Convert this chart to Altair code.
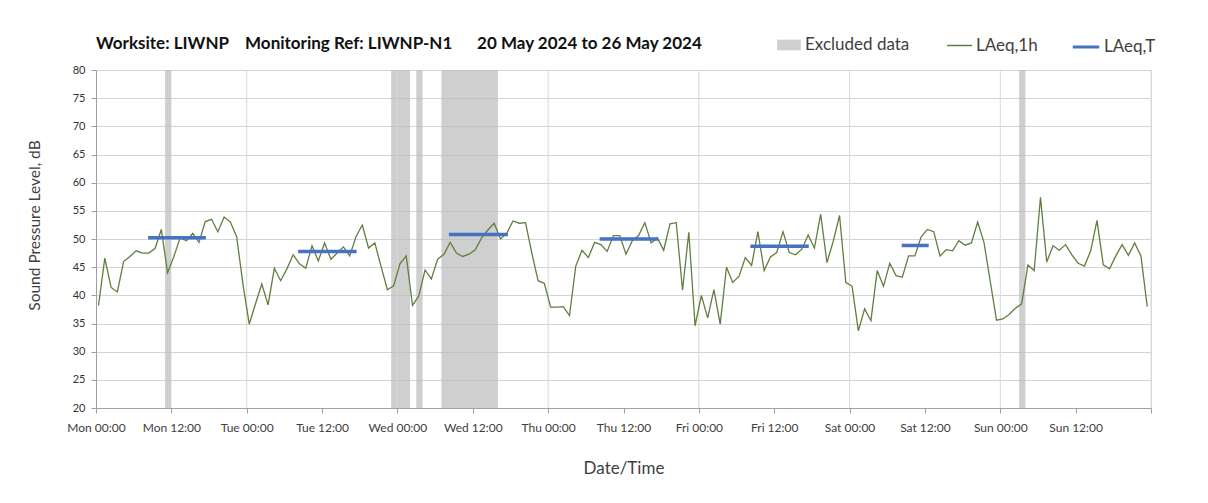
import altair as alt
import pandas as pd

# Hourly LAeq,1h readings, Mon 20 May 00:00 -> Sun 26 May 23:00 (168 hours)
laeq_1h = [
    38.2, 46.6, 41.4, 40.6, 46.0, 46.9, 47.9, 47.5, 47.5, 48.3, 51.7, 44.0,
    46.9, 50.2, 49.7, 51.0, 49.4, 53.1, 53.5, 51.3, 53.9, 53.0, 50.4, 42.0,
    34.9, 38.5, 42.0, 38.3, 44.8, 42.6, 44.7, 47.2, 45.6, 44.8, 48.8, 46.1,
    49.3, 46.4, 47.5, 48.6, 47.0, 50.4, 52.5, 48.4, 49.3, 45.1, 41.0, 41.7,
    45.6, 47.0, 38.2, 39.9, 44.5, 42.9, 46.4, 47.3, 49.4, 47.5, 46.9, 47.3,
    48.1, 50.2, 51.6, 52.8, 50.0, 51.0, 53.2, 52.8, 52.9, 47.5, 42.6, 42.1,
    37.9, 37.9, 38.0, 36.4, 45.2, 48.0, 46.7, 49.4, 49.0, 47.8, 50.6, 50.6,
    47.3, 49.7, 50.6, 52.9, 49.3, 50.2, 48.0, 52.7, 52.9, 40.9, 51.2, 34.6,
    40.0, 36.0, 41.0, 34.9, 45.0, 42.3, 43.4, 46.7, 45.3, 51.3, 44.4, 46.8,
    47.6, 51.3, 47.6, 47.2, 48.2, 50.7, 48.4, 54.4, 45.8, 49.6, 54.2, 42.3,
    41.6, 33.7, 37.6, 35.5, 44.4, 41.6, 45.7, 43.5, 43.2, 47.0, 47.0, 50.4,
    51.7, 51.3, 47.0, 48.1, 47.9, 49.7, 48.9, 49.3, 53.0, 49.4, 42.5, 35.6,
    35.8, 36.6, 37.7, 38.5, 45.4, 44.4, 57.4, 45.9, 48.8, 48.0, 49.0, 47.2,
    45.7, 45.2, 47.9, 53.3, 45.4, 44.7, 47.0, 49.0, 47.1, 49.3, 47.0, 38.0,
]
reading_offset_h = 0.4  # readings are time-stamped a little after each hour

# Excluded data periods (hours since Mon 00:00)
excl_start = [11, 47, 51, 55, 147]
excl_end = [12, 50, 52, 64, 148]

# LAeq,T daytime periods (hours since Mon 00:00) and levels
t_start = [8.3, 32.2, 56.2, 80.2, 104.2, 128.3]
t_end = [17.5, 41.5, 65.6, 89.5, 113.5, 132.6]
t_level = [50.2, 47.8, 50.8, 50.0, 48.7, 48.85]

# day boundaries (midnights) for the vertical gridlines
day_bounds = [24, 48, 72, 96, 120, 144, 168]

x_ticks = list(range(0, 169, 12))
y_ticks = list(range(20, 81, 5))

FONT = "Lato"
W, H = 1055, 338

line_df = pd.DataFrame({
    "h": [i + reading_offset_h for i in range(len(laeq_1h))],
    "v": laeq_1h,
    "s": ["LAeq,1h"] * len(laeq_1h),
})
excl_df = pd.DataFrame({"a": excl_start, "b": excl_end, "s": ["Excluded data"] * len(excl_start)})
t_df = pd.DataFrame({"a": t_start, "b": t_end, "v": t_level, "s": ["LAeq,T"] * len(t_start)})
grid_df = pd.DataFrame({"d": day_bounds})

x_scale = alt.Scale(domain=[0, 168], nice=False, zero=False)
y_scale = alt.Scale(domain=[20, 80], nice=False, zero=False)

label_expr = (
    "datum.value >= 168 ? '' : "
    "substring('MonTueWedThuFriSatSun', floor(datum.value/24)*3, floor(datum.value/24)*3+3)"
    " + (datum.value % 24 == 0 ? ' 00:00' : ' 12:00')"
)

x_axis = alt.Axis(
    values=x_ticks, labelExpr=label_expr, title="Date/Time",
    grid=False, labelOverlap=False, labelFlush=False,
    domainColor="#a0a0a0", tickColor="#a0a0a0", tickSize=5,
    labelFont=FONT, labelFontSize=12, labelColor="#404040", labelPadding=9,
    titleFont=FONT, titleFontSize=17, titleFontWeight="normal", titleColor="#404040",
    titlePadding=27,
)
y_axis = alt.Axis(
    values=y_ticks, title="Sound Pressure Level, dB",
    grid=True, gridColor="#d4d4d4",
    domainColor="#a0a0a0", tickColor="#a0a0a0", tickSize=5,
    labelFont=FONT, labelFontSize=11, labelColor="#333333", labelPadding=6,
    titleFont=FONT, titleFontSize=15.5, titleFontWeight="normal", titleColor="#404040",
    titlePadding=30, titleY=155,
)

def leg(x, path, size, sw=None):
    kw = dict(orient="none", legendX=x, legendY=-38, title=None,
              labelFont=FONT, labelFontSize=17, labelColor="#404040",
              symbolType=path, symbolSize=size, labelOffset=3)
    if sw is not None:
        kw["symbolStrokeWidth"] = sw
    return alt.Legend(**kw)

bands = alt.Chart(excl_df).mark_rect(opacity=0.7).encode(
    x=alt.X("a:Q", scale=x_scale, axis=x_axis),
    x2="b:Q",
    y=alt.Y(datum=80, type="quantitative", scale=y_scale, axis=y_axis),
    y2=alt.datum(20),
    color=alt.Color("s:N", scale=alt.Scale(domain=["Excluded data"], range=["#bababa"]),
                    legend=leg(680, "M-1,-0.45H1V0.45H-1Z", 560)),
)

vgrid = alt.Chart(grid_df).mark_rule(color="#d8d8d8", strokeWidth=1).encode(
    x=alt.X("d:Q", scale=x_scale, axis=x_axis),
)

line = alt.Chart(line_df).mark_line(strokeWidth=1.3).encode(
    x=alt.X("h:Q", scale=x_scale, axis=x_axis),
    y=alt.Y("v:Q", scale=y_scale, axis=y_axis),
    color=alt.Color("s:N", scale=alt.Scale(domain=["LAeq,1h"], range=["#5f7f3f"]),
                    legend=leg(850, "stroke", 625, 1.5)),
)

rules = alt.Chart(t_df).mark_rule(strokeWidth=3.5).encode(
    x=alt.X("a:Q", scale=x_scale, axis=x_axis),
    x2="b:Q",
    y=alt.Y("v:Q", scale=y_scale, axis=y_axis),
    color=alt.Color("s:N", scale=alt.Scale(domain=["LAeq,T"], range=["#4472c4"]),
                    legend=leg(975, "stroke", 700, 3)),
)

title_text = ("Worksite: LIWNP\u00a0\u00a0\u00a0 Monitoring Ref: LIWNP-N1"
              "\u00a0\u00a0\u00a0\u00a0\u00a0 20 May 2024 to 26 May 2024")

chart = (
    alt.layer(bands, vgrid, line, rules)
    .resolve_scale(color="independent")
    .properties(
        width=W, height=H,
        title=alt.Title(title_text, anchor="start", frame="group", font=FONT,
                        fontSize=17, fontWeight="bold", color="#111111", offset=-21),
        autosize=alt.AutoSizeParams(type="none"),
        padding={"left": 88, "top": 62, "right": 45, "bottom": 80},
    )
    .configure_view(stroke="#a0a0a0", strokeWidth=1)
    .configure(background="white")
)

chart.save("out.html", embed_options={"renderer": "svg", "actions": False})
